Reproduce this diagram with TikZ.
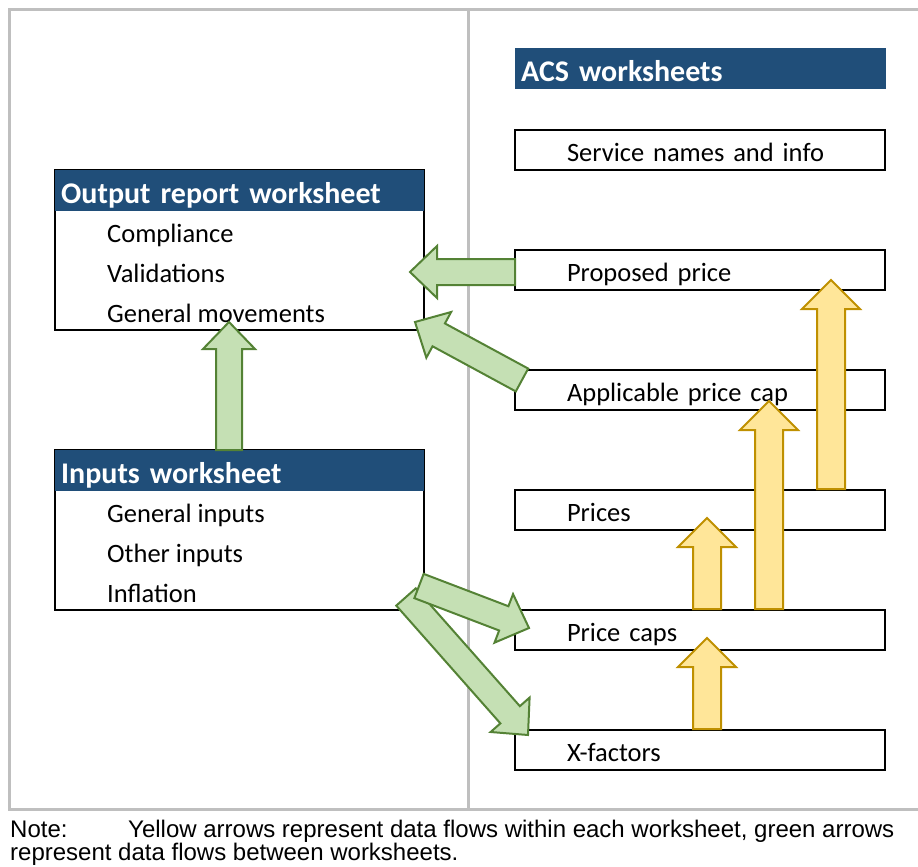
\documentclass[tikz,border=0pt]{standalone}
\usepackage{fontspec}
\setmainfont{Carlito}
\newfontfamily\notefont{Liberation Sans}
\usetikzlibrary{calc,positioning}
\definecolor{hdblue}{RGB}{32,78,121}
\definecolor{grnfill}{RGB}{197,224,180}
\definecolor{grnline}{RGB}{84,130,53}
\definecolor{ylwfill}{RGB}{255,230,153}
\definecolor{ylwline}{RGB}{191,144,0}
\definecolor{framegray}{RGB}{191,191,191}
% block arrow: style, tail, tip, half shaft, half head, head length
\newcommand{\flow}[6]{%
  \coordinate (hb) at ($(#3)!#6!(#2)$);
  \draw[#1] ($(#2)!#4!90:(#3)$) -- ($(hb)!#4!90:(#3)$) -- ($(hb)!#5!90:(#3)$) -- (#3)
    -- ($(hb)!#5!-90:(#3)$) -- ($(hb)!#4!-90:(#3)$) -- ($(#2)!#4!-90:(#3)$) -- cycle;}
\newcommand{\greenflow}[2]{\flow{gflow}{#1}{#2}{13pt}{26pt}{27pt}}
\newcommand{\yellowflow}[2]{\flow{yflow}{#1}{#2}{14pt}{29pt}{29pt}}

\begin{document}
\begin{tikzpicture}[x=1pt,y=-1pt,
    hd/.style={fill=hdblue, text=white, font=\bfseries\fontsize{30}{36}\selectfont,
      minimum height=41pt, anchor=north west, inner xsep=6pt, inner ysep=0pt,
      text height=33pt, text depth=8pt, text width=#1, align=left},
    sheet/.style={draw, line width=2.5pt, minimum height=40pt, text width=370pt, outer sep=0pt,
      inner xsep=0pt, inner ysep=0pt, text height=31pt, text depth=9pt, align=left,
      font=\fontsize{26.5}{30}\selectfont, execute at begin node={\hspace*{52pt}}},
    item/.style={anchor=base west, inner sep=0pt, font=\fontsize{26.5}{30}\selectfont},
    notetext/.style={anchor=base west, inner sep=0pt, font=\notefont\fontsize{24}{28}\selectfont},
    gflow/.style={fill=grnfill, draw=grnline, line width=2pt},
    yflow/.style={fill=ylwfill, draw=ylwline, line width=2pt}]
  \useasboundingbox (0,0) rectangle (918,867);
  \draw[framegray, line width=3pt] (918,10) -- (9,10) -- (9,809) -- (918,809) (468,10) -- (468,809);

  % ACS worksheets
  \node[hd=359pt] (acshd) at (515,48) {ACS worksheets};
  \node[sheet, anchor=west] (svc) at (515,150) {Service names and info};
  \node[sheet, below=80pt of svc] (prop) {Proposed price};
  \node[sheet, below=80pt of prop] (appcap) {Applicable price cap};
  \node[sheet, below=80pt of appcap] (prices) {Prices};
  \node[sheet, below=80pt of prices] (pcaps) {Price caps};
  \node[sheet, below=80pt of pcaps] (xfac) {X-factors};

  % Output report worksheet
  \node[draw, line width=2.5pt, outer sep=0pt, minimum width=369pt, minimum height=160pt, anchor=north west] (outbox) at (55,170) {};
  \node[hd=357pt] (outhd) at (55,170) {Output report worksheet};
  \node[item] (comp) at (107,242) {Compliance};
  \node[item] (valid) at (107,282) {Validations};
  \node[item] (genmov) at (107,322) {General movements};

  % Inputs worksheet
  \node[draw, line width=2.5pt, outer sep=0pt, minimum width=369pt, minimum height=160pt, anchor=north west] (inbox) at (55,450) {};
  \node[hd=357pt] (inhd) at (55,450) {Inputs worksheet};
  \node[item] (genin) at (107,522) {General inputs};
  \node[item] (othin) at (107,562) {Other inputs};
  \node[item] (infl) at (107,602) {Inflation};

  % green flows
  \coordinate (g1a) at ($(prop.west)+(0,2)$);
  \coordinate (g1b) at ($(outbox.east)+(-14,22)$);
  \coordinate (g2a) at ($(appcap.west)+(7,-10)$);
  \coordinate (g2b) at ($(outbox.south east)+(-9,-8)$);
  \coordinate (g3a) at ($(inhd.north west)+(174,0)$);
  \coordinate (g3b) at ($(outbox.south west)+(174,-8)$);
  \coordinate (g4a) at ($(inbox.south east)+(-5,-24)$);
  \coordinate (g4b) at ($(pcaps.west)+(14,-2)$);
  \coordinate (g5a) at ($(inbox.south east)+(-18,-13)$);
  \coordinate (g5b) at ($(xfac.west)+(13,-15)$);
  \greenflow{g1a}{g1b}
  \greenflow{g2a}{g2b}
  \greenflow{g3a}{g3b}
  \greenflow{g5a}{g5b}
  \greenflow{g4a}{g4b}

  % yellow flows
  \coordinate (y1a) at ($(xfac.north west)+(192,-1)$);
  \coordinate (y1b) at ($(pcaps.north west)+(192,28)$);
  \coordinate (y2a) at ($(pcaps.north west)+(192,-1)$);
  \coordinate (y2b) at ($(prices.north west)+(192,28)$);
  \coordinate (y3a) at ($(pcaps.north west)+(254,-1)$);
  \coordinate (y3b) at ($(appcap.north west)+(254,31)$);
  \coordinate (y4a) at ($(prices.north west)+(316,-1)$);
  \coordinate (y4b) at ($(prop.north west)+(316,30)$);
  \yellowflow{y1a}{y1b}
  \yellowflow{y2a}{y2b}
  \yellowflow{y3a}{y3b}
  \yellowflow{y4a}{y4b}

  \node[notetext] (notelbl) at (10,837) {Note:};
  \node[notetext] (note1) at (128,837) {Yellow arrows represent data flows within each worksheet, green arrows};
  \node[notetext] (note2) at (10,860) {represent data flows between worksheets.};
\end{tikzpicture}
\end{document}
